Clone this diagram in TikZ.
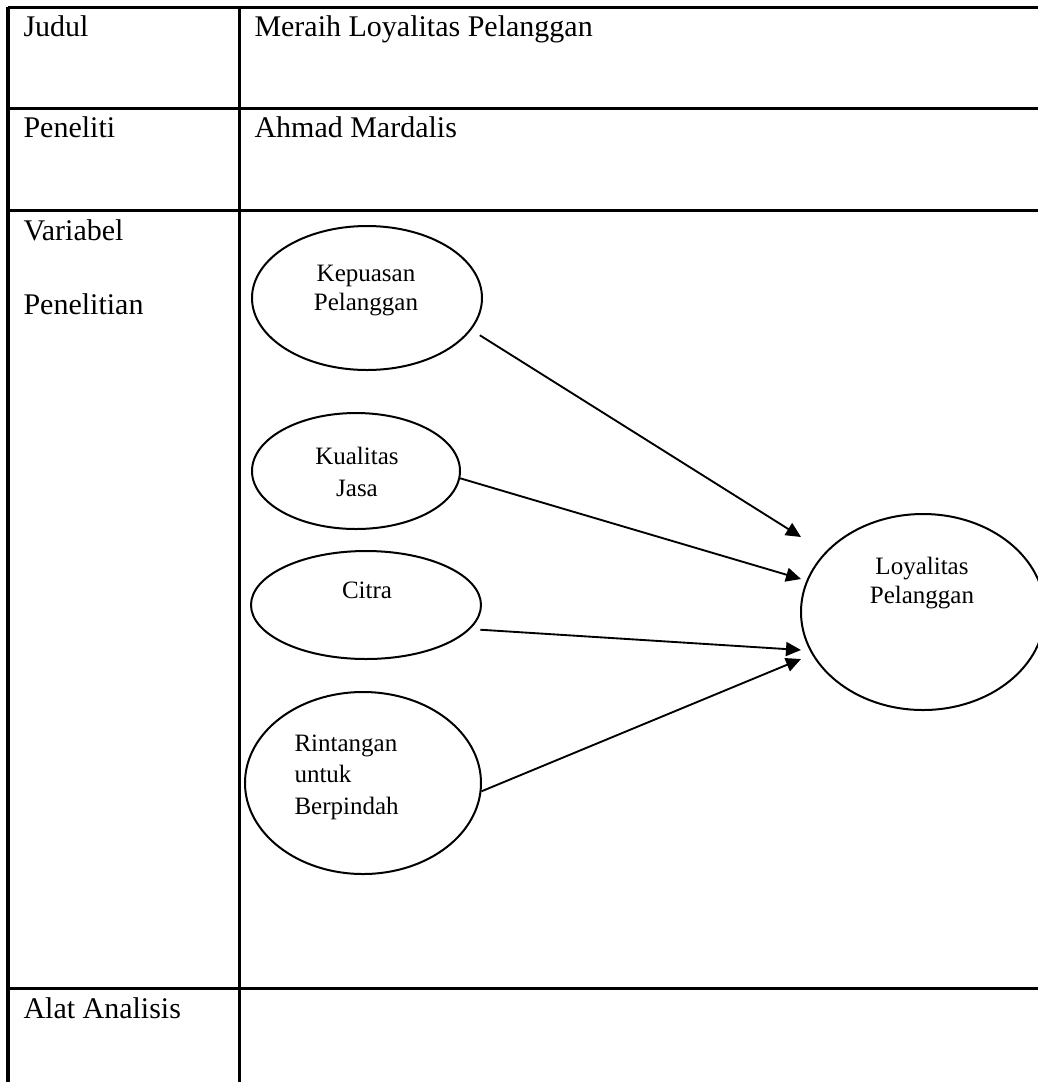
\documentclass[tikz,border=0pt]{standalone}
\usepackage{fontspec}
\setmainfont{Liberation Serif}
\usetikzlibrary{shapes.geometric, arrows.meta, calc}

\begin{document}
\begin{tikzpicture}[x=0.4pt, y=-0.4pt]
		\useasboundingbox (0,0) rectangle (1038,1082);
		\clip (0,0) rectangle (1038,1082);

		% table
		\begin{scope}[line width=1.2pt]
		\draw (8,7) -- (1038,7);
		\draw (8,108) -- (1038,108);
		\draw (8,210) -- (1038,210);
		\draw (8,988) -- (1038,988);
		\draw (8,7) -- (8,1082);
		\draw (239,7) -- (239,1082);
		\end{scope}

		\begin{scope}[every node/.style={anchor=base west, inner sep=0, font=\fontsize{12}{14}\selectfont}]
		\node (judul) at (23,36) {Judul};
		\node (judulisi) at (254,36) {Meraih Loyalitas Pelanggan};
		\node (peneliti) at (23,137) {Peneliti};
		\node (penelitiisi) at (254,137) {Ahmad Mardalis};
		\node (var) at (23,240) {Variabel};
		\node (varb) at (23,314) {Penelitian};
		\node (alat) at (23,1018) {Alat Analisis};
		\end{scope}

		% variables
		\begin{scope}[every node/.style={draw, ellipse, line width=0.8pt, inner sep=0}]
		\node[minimum width=92pt, minimum height=57.6pt] (kep) at (367,298) {};
		\node[minimum width=83.2pt, minimum height=46.4pt] (kua) at (356,471) {};
		\node[minimum width=92pt, minimum height=43.2pt] (cit) at (366,605) {};
		\node[minimum width=94.4pt, minimum height=72.8pt] (rin) at (363,783) {};
		\node[minimum width=97.6pt, minimum height=78.4pt] (loy) at (923,612) {};
		\end{scope}

		\begin{scope}[every node/.style={inner sep=0, font=\fontsize{10}{11.6}\selectfont}]
		\node[anchor=north, align=center] (kept) at (366,265) {Kepuasan\\Pelanggan};
		\node[anchor=north, align=center, font=\fontsize{10}{12.6}\selectfont] (kuat) at (357,447) {Kualitas\\Jasa};
		\node[anchor=north] (citt) at (367,581) {Citra};
		\node[anchor=north west, align=left, font=\fontsize{10}{12.6}\selectfont] (rint) at (294,734) {Rintangan\\untuk\\Berpindah};
		\node[anchor=north, align=center] (loyt) at (922,557) {Loyalitas\\Pelanggan};
		\end{scope}

		\coordinate (tip1) at (801,537);
		\coordinate (tip2) at (801,579);
		\coordinate (tip3) at (801,650);
		\coordinate (tip4) at (801,659);

		\draw[-{Triangle[length=6pt, width=5.6pt]}, line width=0.75pt, shorten <=4pt] (kep.-17) -- (tip1);
		\draw[-{Triangle[length=6pt, width=5.6pt]}, line width=0.75pt] (kua.-4) -- (tip2);
		\draw[-{Triangle[length=6pt, width=5.6pt]}, line width=0.75pt, shorten <=4pt] (cit.-13) -- (tip3);
		\draw[-{Triangle[length=6pt, width=5.6pt]}, line width=0.75pt] (rin.-4) -- (tip4);
\end{tikzpicture}
\end{document}
